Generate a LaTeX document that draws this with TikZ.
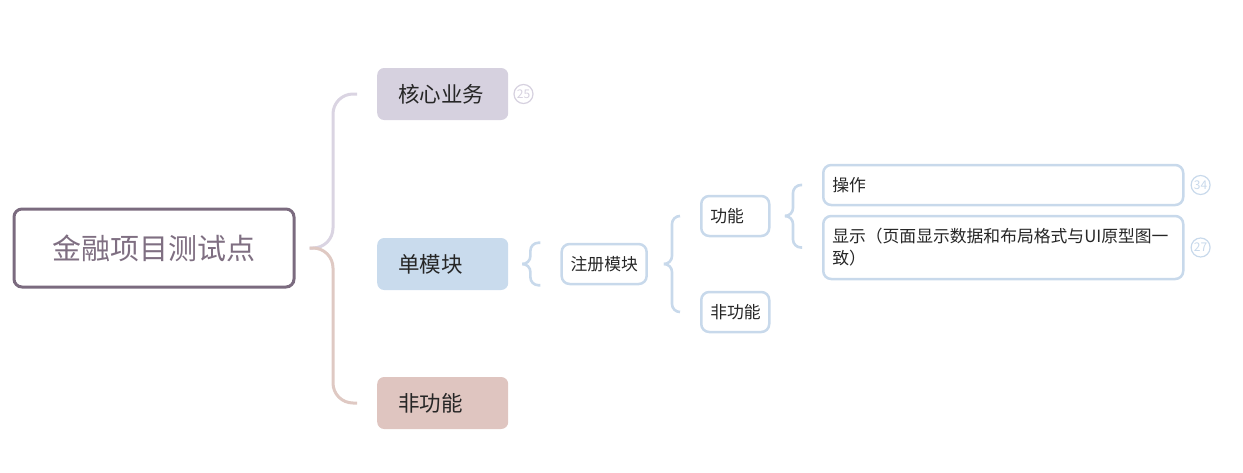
\documentclass[tikz,border=0pt]{standalone}
\usepackage{fontspec}
\setmainfont{Noto Sans CJK SC}
\usepackage{tikz}
\usetikzlibrary{positioning,calc}
\definecolor{rootline}{HTML}{7B6B7F}
\definecolor{roottext}{HTML}{7F6F82}
\definecolor{corefill}{HTML}{D6D1DF}
\definecolor{singlefill}{HTML}{C9DBED}
\definecolor{nonfill}{HTML}{DFC5C0}
\definecolor{bluebrace}{HTML}{C8D9EB}
\definecolor{topbrace}{HTML}{DAD4E2}
\definecolor{botbrace}{HTML}{DFC9C3}
\tikzset{
  rootbox/.style={draw=rootline, line width=3pt, rounded corners=8pt, fill=white, minimum width=280pt, minimum height=78pt, font=\fontsize{29}{33}\selectfont, text=roottext},
  mainbox/.style={rounded corners=7pt, inner xsep=21pt, text width=89pt, align=left, minimum height=52pt, font=\fontsize{21.5}{25}\selectfont, text=black!85},
  subbox/.style={draw=bluebrace, line width=2.5pt, rounded corners=8pt, fill=white, inner xsep=9pt, align=left, minimum height=40pt, font=\fontsize{16.8}{22}\selectfont, text=black!85},
  countc/.style={circle, draw=bluebrace, text=bluebrace, line width=1.2pt, inner sep=0pt, minimum size=19pt, font=\fontsize{12}{12}\selectfont},
  brtop/.style={draw=topbrace, line width=3pt, rounded corners=20pt},
  brbot/.style={draw=botbrace, line width=3pt, rounded corners=20pt},
  brblue/.style={draw=bluebrace, line width=2.6pt, rounded corners=8pt}
}
\begin{document}
\begin{tikzpicture}[x=1pt, y=-1pt]
\useasboundingbox (0,0) rectangle (1243,472);
% root and first level
\node[rootbox] (root) at (154,248) {金融项目测试点};
\node[mainbox, fill=corefill, anchor=west] (core) at (377,94) {核心业务};
\node[mainbox, fill=singlefill, anchor=west] (single) at (377,264) {单模块};
\node[mainbox, fill=nonfill, anchor=west] (nonfunc) at (377,403) {非功能};
\node[countc, draw=corefill, text=corefill, right=5pt of core] (n25) {25};
% 单模块 branch
\node[subbox, text width=67pt, right=52pt of single] (reg) {注册模块};
\node[subbox, text width=50pt, anchor=west] (func) at (700,216) {功能};
\node[subbox, text width=50pt, anchor=west] (nfunc) at (700,312) {非功能};
\node[subbox, text width=342pt, anchor=west] (oper) at (822,185) {操作};
\node[subbox, text width=342pt, anchor=west, minimum height=63pt] (show) at (822,247.5) {显示（页面显示数据和布局格式与UI原型图一\\致）};
\node[countc, right=6pt of oper] (n34) {34};
\node[countc, right=6pt of show] (n27) {27};
% braces
\draw[brtop] ([xshift=14pt]root.east) -| ([xshift=-44pt]core.west) -- ([xshift=-20pt]core.west);
\draw[brbot] ([xshift=14pt]root.east) -| ([xshift=-44pt]nonfunc.west) -- ([xshift=-20pt]nonfunc.west);
\draw[brblue] ([xshift=15pt]single.east) -| ([xshift=-30pt]reg.north west) -- ([xshift=-20pt]reg.north west);
\draw[brblue] ([xshift=15pt]single.east) -| ([xshift=-30pt]reg.south west) -- ([xshift=-20pt]reg.south west);
\draw[brblue] ([xshift=16pt]reg.east) -| ([xshift=-28pt]func.west) -- ([xshift=-20pt]func.west);
\draw[brblue] ([xshift=16pt]reg.east) -| ([xshift=-28pt]nfunc.west) -- ([xshift=-20pt]nfunc.west);
\draw[brblue] ([xshift=16pt]func.east) -| ([xshift=-29pt]oper.west) -- ([xshift=-20pt]oper.west);
\draw[brblue] ([xshift=16pt]func.east) -| ([xshift=-29pt]show.west) -- ([xshift=-20pt]show.west);
\end{tikzpicture}
\end{document}
